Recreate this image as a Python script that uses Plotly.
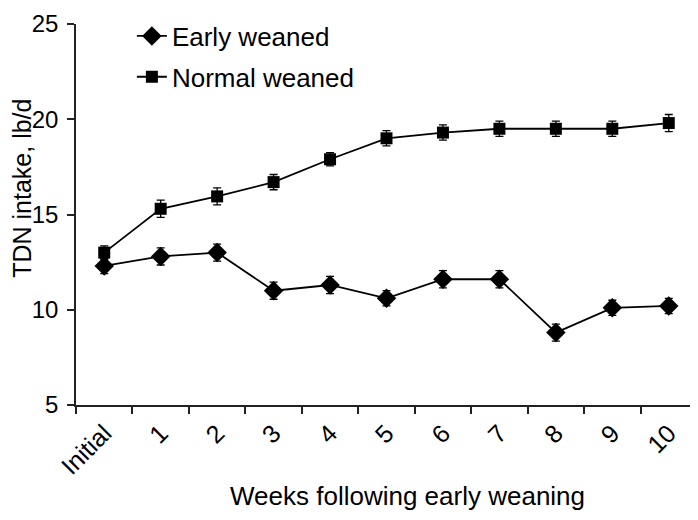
import plotly.graph_objects as go

categories = ["Initial", "1", "2", "3", "4", "5", "6", "7", "8", "9", "10"]
early_weaned = [12.3, 12.8, 13.0, 11.0, 11.3, 10.6, 11.6, 11.6, 8.8, 10.1, 10.2]
early_err = [0.4, 0.45, 0.45, 0.45, 0.45, 0.4, 0.45, 0.45, 0.45, 0.4, 0.4]
normal_weaned = [13.0, 15.3, 15.95, 16.7, 17.9, 19.0, 19.3, 19.5, 19.5, 19.5, 19.8]
normal_err = [0.35, 0.45, 0.45, 0.4, 0.35, 0.4, 0.4, 0.4, 0.4, 0.4, 0.45]

x_title = "Weeks following early weaning"
y_title = "TDN intake, lb/d"

FONT = "Liberation Sans, Arial, Helvetica, sans-serif"

fig = go.Figure()
fig.add_trace(go.Scatter(
    x=categories, y=early_weaned, name="Early weaned", mode="lines+markers",
    legendgroup="a",
    line=dict(color="black", width=1.8),
    marker=dict(symbol="diamond", size=15, color="black"),
    error_y=dict(type="data", array=early_err, color="black", thickness=1.3, width=4),
))
fig.add_trace(go.Scatter(
    x=categories, y=normal_weaned, name="Normal weaned", mode="lines+markers",
    legendgroup="b",
    line=dict(color="black", width=1.8),
    marker=dict(symbol="square", size=12, color="black"),
    error_y=dict(type="data", array=normal_err, color="black", thickness=1.3, width=4),
))

# page body has an 8px margin: figure is sized so that it fits the 698x520 window
fig.update_layout(
    width=690, height=504,
    margin=dict(l=68, r=1, t=16, b=107, autoexpand=False),
    paper_bgcolor="white", plot_bgcolor="white",
    font=dict(family=FONT, color="black", size=22),
    showlegend=True,
    legend=dict(x=0.090, y=1.030, xanchor="left", yanchor="top",
                font=dict(size=26, family=FONT), bgcolor="rgba(0,0,0,0)",
                tracegroupgap=4, itemwidth=30),
    annotations=[
        dict(text=x_title, xref="paper", yref="paper", x=0.534, y=-0.238,
             xanchor="center", yanchor="middle", showarrow=False,
             font=dict(size=26, family=FONT)),
        dict(text=y_title, xref="paper", yref="paper", x=-0.087, y=0.57,
             xanchor="center", yanchor="middle", showarrow=False, textangle=-90,
             font=dict(size=25, family=FONT)),
    ],
)
fig.update_xaxes(
    type="category", range=[-0.5, 10.5], tickson="boundaries", automargin=False,
    showline=True, linecolor="#222", linewidth=1.5,
    ticks="outside", ticklen=7, tickcolor="#222", tickwidth=1.5,
    tickangle=-45, tickfont=dict(size=25, family=FONT), ticklabelstandoff=2,
    showgrid=False, zeroline=False,
)
fig.update_yaxes(
    range=[5, 25], dtick=5, tick0=5, automargin=False,
    showline=True, linecolor="#222", linewidth=1.5,
    ticks="outside", ticklen=7, tickcolor="#222", tickwidth=1.5,
    tickfont=dict(size=24, family=FONT), ticklabelstandoff=4,
    showgrid=False, zeroline=False,
)

fig.write_html("out.html")
